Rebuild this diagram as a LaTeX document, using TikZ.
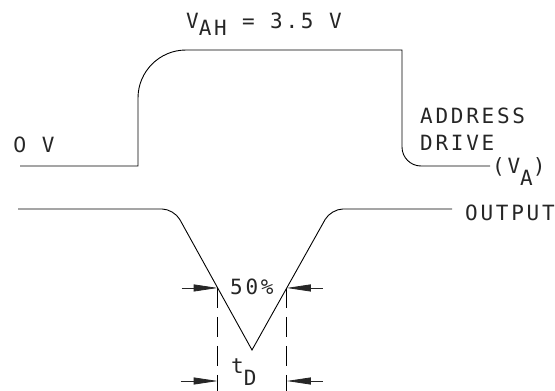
\documentclass[tikz,border=0pt]{standalone}
\usepackage{fontspec}
\newfontfamily\plotfont[LetterSpace=13]{DejaVu Sans Mono}
\newfontfamily\plainzero{DejaVu Sans}
\usetikzlibrary{arrows.meta, calc}

\newcommand{\lowsub}[2][7pt]{\raisebox{-#1}{#2}}

\begin{document}
\begin{tikzpicture}[
  x=1pt, y=-1pt,
  wave/.style={line width=0.9pt},
  lbl/.style={font=\plotfont\fontsize{21}{27}\selectfont, text=black!85, inner sep=0pt, anchor=base west},
  dim/.style={-{Triangle[length=24pt,width=7pt]}, line width=0.8pt, black!85},
  guide/.style={line width=0.8pt, dash pattern=on 20pt off 9pt},
]
  \useasboundingbox (0,0) rectangle (555,391);

  % address drive waveform
  \coordinate (a0) at (20,166);
  \coordinate (a1) at (138,166);
  \coordinate (a2) at (138,50);
  \coordinate (a3) at (402,50);
  \coordinate (a4) at (402,166);
  \coordinate (a5) at (490,166);
  \draw[wave] (a0) -- (a1) [rounded corners=48pt] -- (a2) [sharp corners] -- (a3) [rounded corners=19pt] -- (a4) [sharp corners] -- (a5);

  % output waveform
  \coordinate (b0) at (18,209);
  \coordinate (b1) at (174,209);
  \coordinate (b2) at (252,350);
  \coordinate (b3) at (331,209);
  \coordinate (b4) at (452,209);
  \draw[wave] (b0) [rounded corners=12pt] -- (b1) [sharp corners] -- (b2) [rounded corners=12pt] -- (b3) [sharp corners] -- (b4);

  % 50% points and delay
  \coordinate (m1) at ($(b1)!0.56!(b2)$);
  \coordinate (m2) at ($(b3)!0.56!(b2)$);
  \coordinate (g1) at (m1 |- 0,391);
  \coordinate (g2) at (m2 |- 0,391);
  \coordinate (d1) at (m1 |- 0,381);
  \coordinate (d2) at (m2 |- 0,381);
  \draw[guide] (m1) -- (g1);
  \draw[guide] (m2) -- (g2);
  \draw[dim] ($(m1)+(-36,0)$) -- (m1);
  \draw[dim] ($(m2)+(36,0)$) -- (m2);
  \draw[dim] ($(d1)+(-37,0)$) -- (d1);
  \draw[dim] ($(d2)+(36,0)$) -- (d2);

  % labels
  \node[lbl] (vah) at (186,28) {V\lowsub{AH} = 3.5 V};
  \node[lbl] (zero) at (13,152) {{\plainzero 0} V};
  \node[lbl] (addr) at (420,123) {ADDRESS};
  \node[lbl] (drive) at (420,150) {DRIVE};
  \node[lbl] (va) at (492,173) {(V\lowsub[12pt]{A})};
  \node[lbl] (out) at (465,220) {OUTPUT};
  \node[lbl] (pct) at (230,294) {50\%};
  \node[lbl] (td) at (231,373) {t\lowsub[12pt]{D}};
\end{tikzpicture}
\end{document}
